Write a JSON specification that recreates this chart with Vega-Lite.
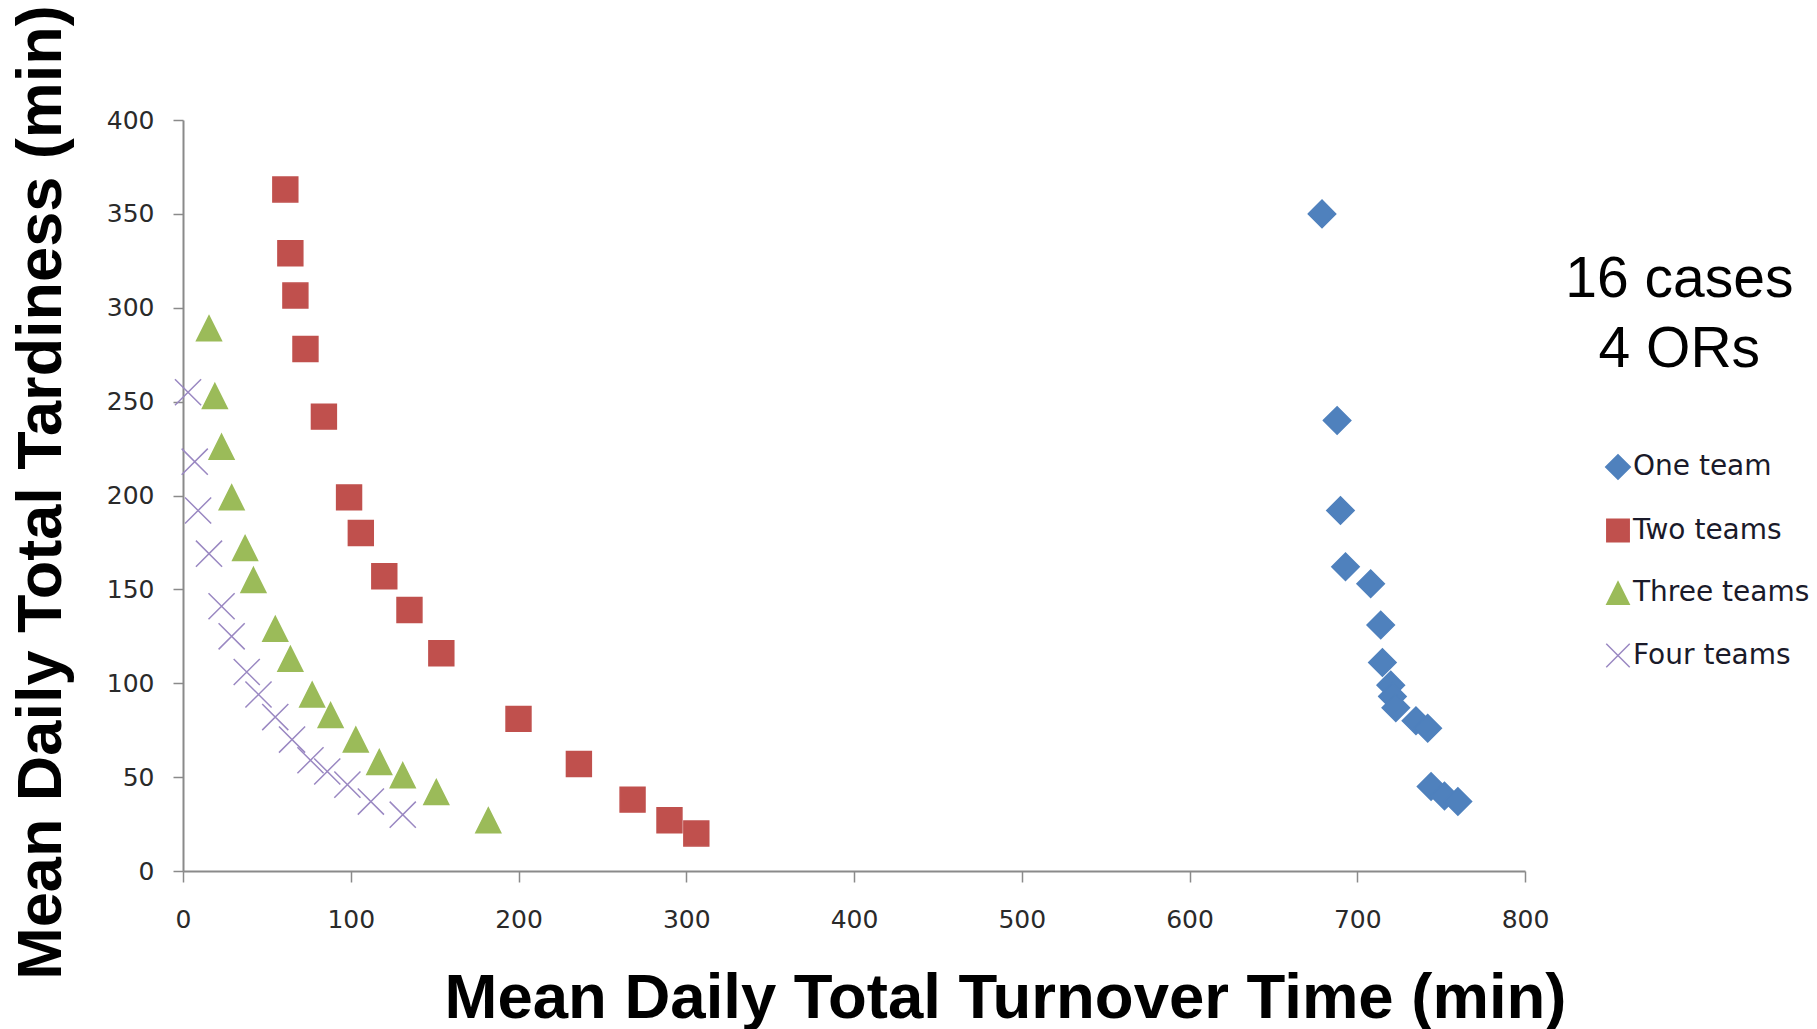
{
  "$schema": "https://vega.github.io/schema/vega-lite/v6.json",
  "width": 1342,
  "height": 751,
  "autosize": {"type": "none"},
  "padding": {"left": 183, "top": 120, "right": 292, "bottom": 158},
  "background": "white",
  "config": {"view": {"stroke": null}},
  "encoding": {
    "x": {
      "field": "x", "type": "quantitative",
      "scale": {"domain": [0, 800], "nice": false, "zero": false},
      "axis": {
        "title": "Mean Daily Total Turnover Time (min)",
        "values": [0, 100, 200, 300, 400, 500, 600, 700, 800],
        "grid": false,
        "domainColor": "#8a8a8a", "domainWidth": 2,
        "tickColor": "#8a8a8a", "tickWidth": 1.5, "tickSize": 11,
        "labelFont": "DejaVu Sans", "labelFontSize": 25, "labelColor": "#2a2a2a",
        "labelPadding": 25, "labelFlush": false,
        "titleFont": "Liberation Sans", "titleFontWeight": "bold", "titleFontSize": 63.5,
        "titleColor": "#000000",
        "titleX": 822, "titleY": 146, "titleAlign": "center", "titleBaseline": "alphabetic"
      }
    },
    "y": {
      "field": "y", "type": "quantitative",
      "scale": {"domain": [0, 400], "nice": false, "zero": false},
      "axis": {
        "title": "Mean Daily Total Tardiness (min)",
        "values": [0, 50, 100, 150, 200, 250, 300, 350, 400],
        "grid": false,
        "domainColor": "#8a8a8a", "domainWidth": 2,
        "tickColor": "#8a8a8a", "tickWidth": 1.5, "tickSize": 10,
        "labelFont": "DejaVu Sans", "labelFontSize": 25, "labelColor": "#2a2a2a",
        "labelPadding": 19, "labelFlush": false,
        "titleFont": "Liberation Sans", "titleFontWeight": "bold", "titleFontSize": 63,
        "titleColor": "#000000",
        "titleAngle": -90,
        "titleX": -123, "titleY": 372, "titleAlign": "center", "titleBaseline": "alphabetic"
      }
    }
  },
  "layer": [
    {
      "data": {"values": [
        {"series": "One team", "x": 679, "y": 350},
        {"series": "One team", "x": 688, "y": 240},
        {"series": "One team", "x": 690, "y": 192},
        {"series": "One team", "x": 693, "y": 162},
        {"series": "One team", "x": 708, "y": 153},
        {"series": "One team", "x": 714, "y": 131},
        {"series": "One team", "x": 715, "y": 111},
        {"series": "One team", "x": 720, "y": 99},
        {"series": "One team", "x": 721, "y": 93},
        {"series": "One team", "x": 723, "y": 87},
        {"series": "One team", "x": 735, "y": 80},
        {"series": "One team", "x": 742, "y": 76},
        {"series": "One team", "x": 744, "y": 45},
        {"series": "One team", "x": 752, "y": 40},
        {"series": "One team", "x": 760, "y": 37},
        {"series": "Two teams", "x": 61, "y": 363},
        {"series": "Two teams", "x": 64, "y": 329},
        {"series": "Two teams", "x": 67, "y": 306.5},
        {"series": "Two teams", "x": 73, "y": 278},
        {"series": "Two teams", "x": 84, "y": 242},
        {"series": "Two teams", "x": 99, "y": 199},
        {"series": "Two teams", "x": 106, "y": 180},
        {"series": "Two teams", "x": 120, "y": 157},
        {"series": "Two teams", "x": 135, "y": 139},
        {"series": "Two teams", "x": 154, "y": 116},
        {"series": "Two teams", "x": 200, "y": 81},
        {"series": "Two teams", "x": 236, "y": 57},
        {"series": "Two teams", "x": 268, "y": 38},
        {"series": "Two teams", "x": 290, "y": 27},
        {"series": "Two teams", "x": 306, "y": 20},
        {"series": "Three teams", "x": 15.5, "y": 289},
        {"series": "Three teams", "x": 19, "y": 253},
        {"series": "Three teams", "x": 23, "y": 226},
        {"series": "Three teams", "x": 29, "y": 199},
        {"series": "Three teams", "x": 37, "y": 172},
        {"series": "Three teams", "x": 42, "y": 155},
        {"series": "Three teams", "x": 55, "y": 129},
        {"series": "Three teams", "x": 64, "y": 113},
        {"series": "Three teams", "x": 77, "y": 94},
        {"series": "Three teams", "x": 88, "y": 83},
        {"series": "Three teams", "x": 103, "y": 70},
        {"series": "Three teams", "x": 117, "y": 58},
        {"series": "Three teams", "x": 131, "y": 51},
        {"series": "Three teams", "x": 151, "y": 42},
        {"series": "Three teams", "x": 182, "y": 27},
        {"series": "Four teams", "x": 3, "y": 255},
        {"series": "Four teams", "x": 7, "y": 218},
        {"series": "Four teams", "x": 9, "y": 192},
        {"series": "Four teams", "x": 15.5, "y": 169},
        {"series": "Four teams", "x": 23, "y": 141},
        {"series": "Four teams", "x": 29, "y": 125},
        {"series": "Four teams", "x": 38, "y": 106},
        {"series": "Four teams", "x": 45, "y": 94},
        {"series": "Four teams", "x": 55, "y": 82},
        {"series": "Four teams", "x": 65, "y": 70},
        {"series": "Four teams", "x": 76, "y": 59},
        {"series": "Four teams", "x": 86, "y": 53},
        {"series": "Four teams", "x": 98, "y": 46},
        {"series": "Four teams", "x": 112, "y": 37},
        {"series": "Four teams", "x": 131, "y": 30}
      ]},
      "mark": {"type": "point", "filled": true, "size": 620, "strokeWidth": 1.5, "opacity": 1, "fillOpacity": 1, "strokeOpacity": 1},
      "encoding": {
        "fill": {
          "field": "series", "type": "nominal",
          "scale": {"domain": ["One team", "Two teams", "Three teams", "Four teams"],
                    "range": ["#4F81BD", "#C0504D", "#9BBB59", "#8064A2"]},
          "legend": {
            "title": null, "orient": "none", "legendX": 1421, "legendY": 333,
            "padding": 0, "symbolSize": 500, "symbolStrokeWidth": 1.5,
            "labelFont": "DejaVu Sans", "labelFontSize": 28, "labelColor": "#1a1a2a",
            "labelOffset": 1, "rowPadding": 32.5, "labelLimit": 400
          }
        },
        "stroke": {
          "field": "series", "type": "nominal",
          "scale": {"domain": ["One team", "Two teams", "Three teams", "Four teams"],
                    "range": ["#4F81BD", "#C0504D", "#9BBB59", "#9A88C2"]},
          "legend": {
            "title": null, "orient": "none", "legendX": 1421, "legendY": 333,
            "padding": 0, "symbolSize": 500, "symbolStrokeWidth": 1.5,
            "labelFont": "DejaVu Sans", "labelFontSize": 28, "labelColor": "#1a1a2a",
            "labelOffset": 1, "rowPadding": 32.5, "labelLimit": 400
          }
        },
        "shape": {
          "field": "series", "type": "nominal",
          "scale": {"domain": ["One team", "Two teams", "Three teams", "Four teams"],
                    "range": ["M-1.1,0L0,-1.1L1.1,0L0,1.1Z", "square", "M0,-1L1,1L-1,1Z", "M-1.05,-1.05L1.05,1.05M-1.05,1.05L1.05,-1.05"]},
          "legend": {
            "title": null, "orient": "none", "legendX": 1421, "legendY": 333,
            "padding": 0, "symbolSize": 500, "symbolStrokeWidth": 1.5,
            "labelFont": "DejaVu Sans", "labelFontSize": 28, "labelColor": "#1a1a2a",
            "labelOffset": 1, "rowPadding": 32.5, "labelLimit": 400
          }
        }
      }
    },
    {
      "data": {"values": [
        {"x": 892, "y": 305.5, "label": "16 cases"},
        {"x": 892, "y": 268.5, "label": "4 ORs"}
      ]},
      "mark": {"type": "text", "font": "Liberation Sans", "fontSize": 57, "align": "center", "baseline": "alphabetic", "color": "#000000"},
      "encoding": {"text": {"field": "label", "type": "nominal"}}
    }
  ]
}
